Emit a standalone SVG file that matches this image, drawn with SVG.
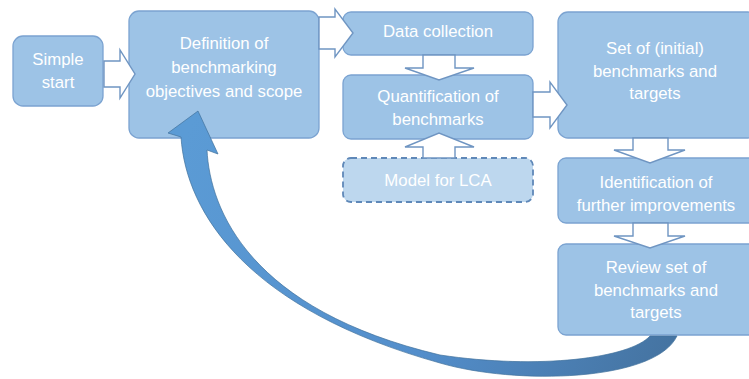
<svg xmlns="http://www.w3.org/2000/svg" width="749" height="379" viewBox="0 0 749 379">
<defs>
<style>
.box{fill:#9dc3e6;stroke:#7ba3d1;stroke-width:1.3}
.dash{fill:#bdd7ee;stroke:#5f88b8;stroke-width:1.8;stroke-dasharray:6 4}
.t{font-family:"Liberation Sans",Arial,sans-serif;font-size:16.8px;fill:#ffffff;text-anchor:middle}
.ba{fill:#ffffff;stroke:#6f95c2;stroke-width:1.4;stroke-linejoin:miter}
</style>
<linearGradient id="cg" gradientUnits="userSpaceOnUse" x1="180" y1="150" x2="680" y2="360">
<stop offset="0" stop-color="#5b9bd5"/>
<stop offset="0.55" stop-color="#538ecb"/>
<stop offset="1" stop-color="#44729f"/>
</linearGradient>
</defs>
<rect width="749" height="379" fill="#ffffff"/>

<g id="node-simple-start">
<rect class="box" x="13" y="36" width="90" height="70" rx="10"/>
<text class="t" x="58" y="65">Simple</text>
<text class="t" x="58" y="88">start</text>
</g>
<g id="node-definition">
<rect class="box" x="129" y="11" width="190" height="127" rx="10"/>
<text class="t" x="224" y="49">Definition of</text>
<text class="t" x="224" y="73">benchmarking</text>
<text class="t" x="224" y="97">objectives and scope</text>
</g>
<g id="node-data-collection">
<rect class="box" x="343" y="12" width="190" height="43" rx="8"/>
<text class="t" x="438" y="37">Data collection</text>
</g>
<g id="node-quantification">
<rect class="box" x="343" y="75" width="190" height="64" rx="8"/>
<text class="t" x="438" y="102">Quantification of</text>
<text class="t" x="438" y="125">benchmarks</text>
</g>
<g id="node-model-lca">
<rect class="dash" x="343" y="158" width="190" height="44" rx="8"/>
<text class="t" x="438" y="186">Model for LCA</text>
</g>
<g id="node-set-initial">
<rect class="box" x="558" y="12" width="200" height="126" rx="10"/>
<text class="t" x="655" y="54">Set of (initial)</text>
<text class="t" x="655" y="77">benchmarks and</text>
<text class="t" x="655" y="99">targets</text>
</g>
<g id="node-identification">
<rect class="box" x="558" y="158" width="200" height="65" rx="8"/>
<text class="t" x="656" y="188">Identification of</text>
<text class="t" x="656" y="211">further improvements</text>
</g>
<g id="node-review">
<rect class="box" x="558" y="244" width="200" height="91" rx="8"/>
<text class="t" x="656" y="273">Review set of</text>
<text class="t" x="656" y="296">benchmarks and</text>
<text class="t" x="656" y="318">targets</text>
</g>

<g id="connectors">
<polygon class="ba" points="104,61 120,61 120,50 135,74 120,98 120,87 104,87"/>
<polygon class="ba" points="319,17 335,17 335,9 353,33 335,57 335,49 319,49"/>
<polygon class="ba" points="423,55 455,55 455,68 474,68 439,80 405,68 423,68"/>
<polygon class="ba" points="423,158 423,147 405,147 439,133 474,147 455,147 455,158"/>
<polygon class="ba" points="533,92 550,92 550,82 567,105 550,128 550,117 533,117"/>
<polygon class="ba" points="633,138 668,138 668,150 685,150 650,163 614,150 633,150"/>
<polygon class="ba" points="633,223 668,223 668,236 685,236 650,248 614,236 633,236"/>
<path id="feedback-arrow" fill="url(#cg)" stroke="#41719c" stroke-width="0.7" stroke-linejoin="miter"
 d="M198,111 L168,133 L181,137 C186,215 250,310 440,363 C515,385 655,382 677,336 L650,336 C630,358 540,370 440,355 C250,310 210,210 207,150 L218,154 Z"/>
</g>
</svg>
